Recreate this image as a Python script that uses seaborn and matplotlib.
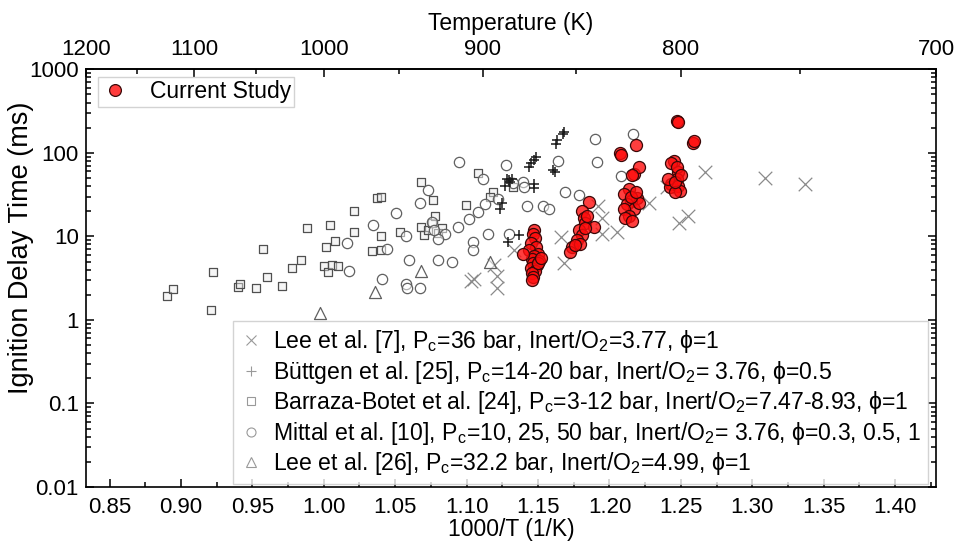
import numpy as np
import pandas as pd
import matplotlib
matplotlib.use("Agg")
import matplotlib.pyplot as plt
from matplotlib.lines import Line2D
from matplotlib.ticker import FixedLocator, FuncFormatter, LogLocator, NullFormatter
import seaborn as sns

# ---------------- data (1000/T in 1/K, ignition delay in ms) ----------------
lee7_x = [1.103, 1.105, 1.119, 1.121, 1.121, 1.133, 1.166, 1.168, 1.192, 1.195,
          1.195, 1.205, 1.228, 1.240, 1.249, 1.255, 1.267, 1.309, 1.337]
lee7_y = [2.9, 3.1, 4.6, 3.4, 2.4, 6.8, 9.8, 4.8, 23, 16.6,
          10.6, 11.4, 25.4, 38.8, 14.4, 17.4, 59, 50.5, 42.7]

buttgen_x = [1.1677, 1.1685, 1.1634, 1.1629, 1.1487, 1.1474, 1.1450, 1.1439, 1.1605, 1.1617,
             1.1295, 1.1307, 1.1271, 1.1280, 1.1320, 1.1474, 1.1474, 1.1247, 1.1236, 1.1370, 1.1290]
buttgen_y = [170, 176, 141, 126, 90, 82, 75, 68, 62, 59,
             47, 45, 40.5, 48, 49, 42.5, 37.6, 25.4, 21, 10.3, 8.6]

barraza_x = [0.8904, 0.8941, 0.9207, 0.9221, 0.9400, 0.9412, 0.9524, 0.9575, 0.9603, 0.9708,
             0.9776, 0.9844, 0.9883, 1.0013, 1.0041, 1.0078, 0.9999, 1.0032, 1.0060, 1.0102,
             1.0214, 1.0214, 1.0372, 1.0403, 1.0403, 1.0340, 1.0403, 1.0536, 1.0683, 1.0764,
             1.0997, 1.1083, 1.1184, 1.1323, 1.0683, 1.0700, 1.0730, 1.0760, 1.0800, 1.0830,
             1.0776, 1.1161]
barraza_y = [1.93, 2.32, 1.32, 3.74, 2.47, 2.67, 2.4, 7.0, 3.26, 2.52,
             4.23, 5.17, 12.6, 7.47, 13.5, 8.7, 4.4, 3.74, 4.5, 4.4,
             20, 11.3, 29.2, 29.8, 10, 6.6, 6.8, 11.3, 45, 27,
             23.6, 56.6, 34, 39, 13, 10.5, 12, 14.5, 11, 12.5,
             17.4, 29.8]

mittal_x = [1.0508, 1.0345, 1.0445, 1.0165, 1.0174, 1.0407, 1.0573, 1.0600, 1.0578, 1.0950,
            1.0729, 1.0671, 1.1114, 1.1273, 1.1394, 1.1405, 1.1323, 1.1223, 1.1132, 1.1078,
            1.1020, 1.1421, 1.1538, 1.0939, 1.0846, 1.0799, 1.0760, 1.0775, 1.1149, 1.1296,
            1.1044, 1.1044, 1.0799, 1.0900, 1.1896, 1.2166, 1.1915, 1.2082, 1.1641, 1.1689,
            1.1784, 1.1574, 1.0580, 1.0674]
mittal_y = [19, 13.6, 7.1, 8.3, 3.9, 3.06, 2.7, 5.2, 10, 78,
            35.7, 25.4, 49, 71, 45, 39, 43, 28.4, 24.7, 19.7,
            16.3, 23.2, 23.2, 13, 10.8, 9.4, 15, 12, 10.8, 10.8,
            8.6, 6.8, 5.2, 4.9, 148, 170, 77, 53, 79, 33.7,
            31, 21.4, 2.4, 2.4]

lee26_x = [0.9977, 1.0361, 1.0683, 1.1161]
lee26_y = [1.22, 2.15, 3.9, 4.9]

current_x = [1.1470, 1.1462, 1.1480, 1.1450, 1.1485, 1.1440, 1.1500, 1.1475, 1.1455, 1.1510,
             1.1468, 1.1490, 1.1452, 1.1478, 1.1460, 1.1466, 1.1458, 1.1393, 1.1500, 1.1520,
             1.1856, 1.1808, 1.1820, 1.1832, 1.1891, 1.1784, 1.1808, 1.1773, 1.1737, 1.1724,
             1.1832, 1.1845, 1.1795, 1.1760,
             1.2072, 1.2183, 1.2172, 1.2207, 1.2160, 1.2136, 1.2100, 1.2195, 1.2148, 1.2124,
             1.2172, 1.2100, 1.2136, 1.2112, 1.2160, 1.2207, 1.2080, 1.2150, 1.2185,
             1.2470, 1.2480, 1.2582, 1.2590, 1.2454, 1.2430, 1.2482, 1.2470, 1.2434, 1.2422,
             1.2482, 1.2494, 1.2458, 1.2410, 1.2470, 1.2460, 1.2500]
current_y = [12.0, 10.8, 9.5, 8.4, 7.5, 6.8, 6.2, 5.8, 5.4, 5.1,
             4.8, 4.5, 4.2, 3.9, 3.6, 3.3, 3.0, 6.2, 4.75, 5.5,
             25.8, 20, 16.6, 14.4, 13.1, 11.9, 10.4, 9.0, 7.4, 6.5,
             12.5, 17.5, 8.2, 7.9,
             99.5, 124, 56.5, 68, 55, 37, 32, 29, 26.6, 24.2,
             21, 21, 17.4, 16.6, 15.1, 25.4, 95, 30, 34,
             239, 232, 132, 138, 80, 75, 59, 49, 42.6, 38.8,
             40.5, 35.3, 33.8, 49, 68, 45, 55]

series_labels = [
    "Lee et al. [7], P$_c$=36 bar, Inert/O$_2$=3.77, \u03d5=1",
    "B\u00fcttgen et al. [25], P$_c$=14-20 bar, Inert/O$_2$= 3.76, \u03d5=0.5",
    "Barraza-Botet et al. [24], P$_c$=3-12 bar, Inert/O$_2$=7.47-8.93, \u03d5=1",
    "Mittal et al. [10], P$_c$=10, 25, 50 bar, Inert/O$_2$= 3.76, \u03d5=0.3, 0.5, 1",
    "Lee et al. [26], P$_c$=32.2 bar, Inert/O$_2$=4.99, \u03d5=1",
]
current_label = "Current Study"
temp_ticks = [1200, 1100, 1000, 900, 800, 700]
temp_minor = [1150, 1050, 950, 850, 750]
x_ticks = [0.85, 0.90, 0.95, 1.00, 1.05, 1.10, 1.15, 1.20, 1.25, 1.30, 1.35, 1.40]

# ---------------- style ----------------
sns.set_style("ticks")
plt.rcParams['font.family'] = ['Liberation Sans', 'DejaVu Sans']
plt.rcParams['mathtext.default'] = 'regular'
plt.rcParams['axes.linewidth'] = 1.2
for k in ['text.color', 'axes.labelcolor', 'xtick.color', 'ytick.color', 'axes.edgecolor']:
    plt.rcParams[k] = 'black'

fig = plt.figure(figsize=(9.58, 5.44), dpi=100)
W, H = 958, 544
L, R, T, B = 85.7, 936, 69.3, 487
ax = fig.add_axes([L / W, 1 - B / H, (R - L) / W, (B - T) / H])

def df(x, y):
    return pd.DataFrame({"x": x, "y": y})

sns.scatterplot(data=df(lee7_x, lee7_y), x="x", y="y", marker="x", s=95,
                color="#8a8a8a", linewidth=0.9, ax=ax, legend=False, zorder=2)
sns.scatterplot(data=df(barraza_x, barraza_y), x="x", y="y", marker="s", s=40,
                facecolor=(0.92, 0.92, 0.92, 0.45), edgecolor="#505050", linewidth=0.9,
                ax=ax, legend=False, zorder=2)
sns.scatterplot(data=df(mittal_x, mittal_y), x="x", y="y", marker="o", s=55,
                facecolor=(1, 1, 1, 0.5), edgecolor="#606060", linewidth=0.9,
                ax=ax, legend=False, zorder=2)
sns.scatterplot(data=df(lee26_x, lee26_y), x="x", y="y", marker="^", s=75,
                facecolor=(1, 1, 1, 0.5), edgecolor="#606060", linewidth=0.9,
                ax=ax, legend=False, zorder=2)
sns.scatterplot(data=df(buttgen_x, buttgen_y), x="x", y="y", marker="+", s=60,
                color="#1a1a1a", linewidth=1.1, ax=ax, legend=False, zorder=3)
sns.scatterplot(data=df(current_x, current_y), x="x", y="y", marker="o", s=75,
                facecolor=(1.0, 0.05, 0.05, 0.8), edgecolor="#3a0808", linewidth=0.9,
                ax=ax, legend=False, zorder=4)

ax.set_yscale("log")
ax.set_xlim(1000 / 1200, 1000 / 700)
ax.set_ylim(0.01, 1000)

ax.xaxis.set_major_locator(FixedLocator(x_ticks))
ax.xaxis.set_minor_locator(FixedLocator([v + 0.025 for v in x_ticks[:-1]] + [1.425]))
ax.xaxis.set_major_formatter(FuncFormatter(lambda v, _: f"{v:.2f}"))
ax.yaxis.set_major_locator(LogLocator(base=10, numticks=10))
ax.yaxis.set_minor_locator(LogLocator(base=10, subs=np.arange(2, 10), numticks=20))
ax.yaxis.set_major_formatter(FuncFormatter(lambda v, _: f"{v:g}"))
ax.yaxis.set_minor_formatter(NullFormatter())

ax.tick_params(which="both", direction="in", top=False, right=True, labelsize=16,
               width=1.1, color="black", labelcolor="black")
ax.tick_params(which="major", length=6, pad=7)
ax.tick_params(which="minor", length=3.5)
ax.tick_params(axis="y", which="major", pad=5)

for sp in ax.spines.values():
    sp.set_visible(True)
    sp.set_color("black")
    sp.set_linewidth(1.2)

ax.set_xlabel("1000/T (1/K)", fontsize=16.5, color="black")
ax.xaxis.set_label_coords(0.5008, -0.074)
ax.set_ylabel("Ignition Delay Time (ms)", fontsize=19.5, color="black")
ax.yaxis.set_label_coords(-0.061, 0.573)


def inv(v):
    v = np.asarray(v, dtype=float)
    with np.errstate(divide="ignore", invalid="ignore"):
        return 1000.0 / v


sec = ax.secondary_xaxis("top", functions=(inv, inv))
sec.xaxis.set_major_locator(FixedLocator(temp_ticks))
sec.xaxis.set_minor_locator(FixedLocator(temp_minor))
sec.xaxis.set_major_formatter(FuncFormatter(lambda v, _: f"{v:.0f}"))
sec.tick_params(which="both", direction="in", labelsize=16, width=1.1, pad=7,
                color="black", labelcolor="black")
sec.tick_params(which="major", length=6)
sec.tick_params(which="minor", length=3.5)
sec.set_xlabel("Temperature (K)", fontsize=16.5, labelpad=6, color="black")
sec.spines["top"].set_linewidth(1.2)
sec.spines["top"].set_color("black")

# ---------------- legends ----------------
h_cur = [Line2D([], [], ls="none", marker="o", ms=8.5, mfc=(1.0, 0.1, 0.1, 0.85),
                mec="#3a0808", mew=0.9)]
leg1 = ax.legend(h_cur, [current_label], loc="upper left", bbox_to_anchor=(0.0145, 0.9816),
                 fontsize=16.5, frameon=True, fancybox=False, borderpad=0.15,
                 handlelength=1.2, handletextpad=0.9, borderaxespad=0, labelcolor="black")
leg1.get_frame().set_edgecolor("#c8c8c8")
leg1.get_frame().set_linewidth(1.0)
ax.add_artist(leg1)

gc = "#999999"
h_ser = [
    Line2D([], [], ls="none", marker="x", ms=7, mec=gc, mew=0.8),
    Line2D([], [], ls="none", marker="+", ms=7.5, mec=gc, mew=0.8),
    Line2D([], [], ls="none", marker="s", ms=6, mfc="none", mec=gc, mew=0.8),
    Line2D([], [], ls="none", marker="o", ms=6.5, mfc="none", mec=gc, mew=0.8),
    Line2D([], [], ls="none", marker="^", ms=7, mfc="none", mec=gc, mew=0.8),
]
leg2 = ax.legend(h_ser, series_labels, loc="lower left", bbox_to_anchor=(0.173, 0.007),
                 fontsize=16.6, frameon=True, fancybox=False, borderpad=0.3,
                 labelspacing=0.15, handlelength=1.0, handletextpad=0.43, borderaxespad=0,
                 labelcolor="black")
leg2.get_frame().set_edgecolor("#c8c8c8")
leg2.get_frame().set_linewidth(1.0)

fig.savefig("out.png", dpi=100)
